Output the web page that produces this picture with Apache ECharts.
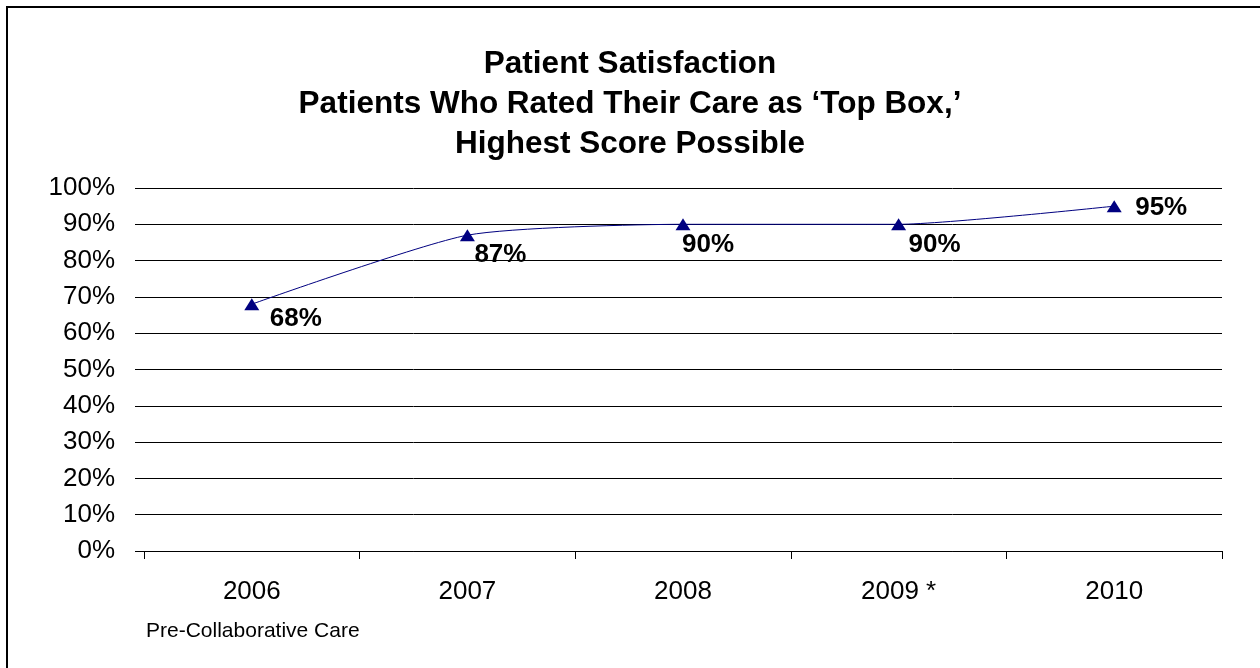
<!DOCTYPE html>
<html>
<head>
<meta charset="utf-8">
<title>Patient Satisfaction</title>
<script src="https://cdn.jsdelivr.net/npm/echarts@6/dist/echarts.min.js"></script>
<style>
  html, body { margin: 0; padding: 0; background: #fff; }
  #chart { width: 1260px; height: 668px; }
</style>
</head>
<body>
<div id="chart"></div>
<script>
// data
var years = ["2006", "2007", "2008", "2009 *", "2010"];
var topBoxPct = [68, 87, 90, 90, 95];
var yTicks = [0, 10, 20, 30, 40, 50, 60, 70, 80, 90, 100];

var FONT = "'Liberation Sans', Arial, sans-serif";
var NAVY = "#000080";

// where each value label sits, relative to its marker (centre of text)
var labelShift = [[44, 15], [33, 20], [25, 21], [36, 21], [47, 2]];

var chart = echarts.init(document.getElementById("chart"));

var option = {
  backgroundColor: "#fff",
  animation: false,
  title: {
    text: "Patient Satisfaction\nPatients Who Rated Their Care as \u2018Top Box,\u2019\nHighest Score Possible",
    left: "center",
    top: 44,
    padding: 0,
    textStyle: {
      fontFamily: FONT,
      fontWeight: "bold",
      fontSize: 31.5,
      lineHeight: 40,
      color: "#000"
    }
  },
  grid: {
    left: 144,
    right: 38,
    top: 188,
    bottom: 117
  },
  xAxis: {
    type: "category",
    data: years,
    boundaryGap: true,
    axisLine: { lineStyle: { color: "#000", width: 1 } },
    axisTick: { show: true, length: 8, lineStyle: { color: "#000" } },
    axisLabel: { margin: 28, fontFamily: FONT, fontSize: 26, color: "#000" },
    splitLine: { show: false }
  },
  yAxis: {
    type: "value",
    min: yTicks[0],
    max: yTicks[yTicks.length - 1],
    interval: yTicks[1] - yTicks[0],
    axisLine: { show: false },
    axisTick: { show: true, length: 9, lineStyle: { color: "#000" } },
    axisLabel: {
      margin: 29,
      fontFamily: FONT,
      fontSize: 26,
      color: "#000",
      formatter: "{value}%"
    },
    splitLine: { show: true, lineStyle: { color: "#000", width: 1 } }
  },
  series: [{
    type: "line",
    smooth: 0.2,
    data: topBoxPct.map(function (v, i) {
      return {
        value: v,
        label: { offset: labelShift[i] }
      };
    }),
    lineStyle: { color: NAVY, width: 1 },
    itemStyle: { color: NAVY },
    symbol: "triangle",
    symbolSize: [15, 12],
    label: {
      show: true,
      position: "inside",
      fontFamily: FONT,
      fontWeight: "bold",
      fontSize: 26,
      color: "#000",
      formatter: "{c}%"
    }
  }],
  graphic: [
    {
      // chart frame (right and bottom edges fall outside the picture)
      type: "rect",
      shape: { x: 7, y: 7, width: 1300, height: 700 },
      style: { fill: null, stroke: "#000", lineWidth: 2 },
      silent: true
    },
    {
      type: "text",
      left: 146,
      top: 621,
      style: {
        text: "Pre-Collaborative Care",
        fontFamily: FONT,
        fontSize: 21,
        fill: "#000"
      }
    }
  ]
};

chart.setOption(option);
</script>
</body>
</html>
